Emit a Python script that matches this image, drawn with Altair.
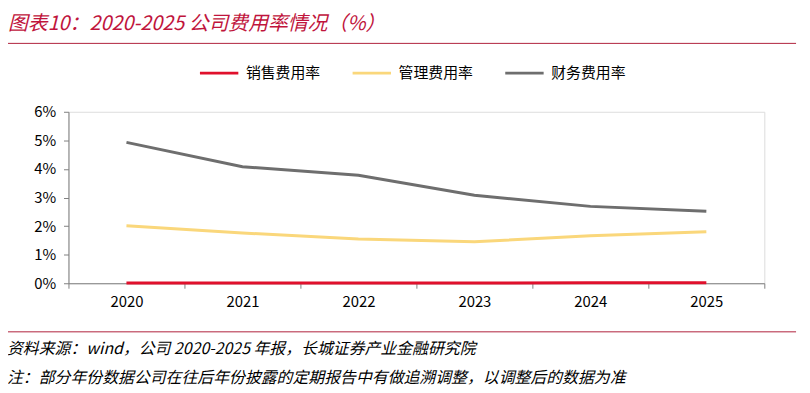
import altair as alt
import pandas as pd

years = ["2020", "2021", "2022", "2023", "2024", "2025"]
series_names = ["销售费用率", "管理费用率", "财务费用率"]
sales = [0.01, 0.01, 0.01, 0.01, 0.02, 0.02]
admin = [2.01, 1.76, 1.55, 1.45, 1.66, 1.80]
finance = [4.93, 4.08, 3.78, 3.08, 2.69, 2.52]
colors = ["#E0102C", "#FAD77B", "#6E6E6E"]

title_text = "图表10：2020-2025 公司费用率情况（%）"
source_text = "资料来源：wind，公司 2020-2025 年报，长城证券产业金融研究院"
note_text = "注：部分年份数据公司在往后年份披露的定期报告中有做追溯调整，以调整后的数据为准"

FONT = "Noto Sans CJK SC"

rows = []
for name, vals in zip(series_names, [sales, admin, finance]):
    for y, v in zip(years, vals):
        rows.append({"year": y, "series": name, "value": v / 100})
df = pd.DataFrame(rows)

lines = alt.Chart(df).mark_line(strokeWidth=3).encode(
    x=alt.X("year:O", scale=alt.Scale(type="band", paddingInner=0, paddingOuter=0),
            axis=alt.Axis(title=None, labelAngle=0, tickBand="extent", labelFontSize=15,
                          labelFont=FONT, labelColor="#000", domainColor="#808080",
                          tickColor="#808080", tickSize=5, labelPadding=6)),
    y=alt.Y("value:Q", scale=alt.Scale(domain=[0, 0.06]),
            axis=alt.Axis(title=None, format=".0%", values=[0, 0.01, 0.02, 0.03, 0.04, 0.05, 0.06],
                          grid=False, labelFontSize=15, labelFont=FONT, labelColor="#000",
                          domainColor="#808080", tickColor="#808080", tickSize=5, labelPadding=8)),
    color=alt.Color("series:N", scale=alt.Scale(domain=series_names, range=colors),
                    sort=series_names,
                    legend=alt.Legend(title=None, orient="none", direction="horizontal",
                                      legendX=131, legendY=-60, symbolType="stroke",
                                      symbolSize=1500, symbolStrokeWidth=3, labelFontSize=15,
                                      labelFont=FONT, labelColor="#000", labelOffset=6,
                                      columnPadding=25)),
    order=alt.Order("series:N"),
)

title = alt.Chart(pd.DataFrame({"t": [title_text]})).mark_text(
    align="left", baseline="middle", fontSize=20, fontStyle="italic", font=FONT, color="#C0143C"
).encode(text="t:N", x=alt.value(-61), y=alt.value(-88))

source = alt.Chart(pd.DataFrame({"t": [source_text]})).mark_text(
    align="left", baseline="middle", fontSize=16, fontStyle="italic", font=FONT, color="#000"
).encode(text="t:N", x=alt.value(-62), y=alt.value(239))

note = alt.Chart(pd.DataFrame({"t": [note_text]})).mark_text(
    align="left", baseline="middle", fontSize=16, fontStyle="italic", font=FONT, color="#000"
).encode(text="t:N", x=alt.value(-62), y=alt.value(269))

rule_top = alt.Chart(pd.DataFrame({"a": [0]})).mark_rule(color="#B0203C", strokeWidth=1).encode(
    x=alt.value(-64), x2=alt.value(734), y=alt.value(-69))
rule_bot = alt.Chart(pd.DataFrame({"a": [0]})).mark_rule(color="#B0203C", strokeWidth=1).encode(
    x=alt.value(-64), x2=alt.value(734), y=alt.value(222))

chart = alt.layer(lines, title, source, note, rule_top, rule_bot).properties(
    width=702, height=173,
    padding={"left": 61, "top": 103, "right": 38, "bottom": 108},
    autosize=alt.AutoSizeParams(type="none"),
).configure_view(stroke=None).configure(background="white")

chart.save("out.html", embed_options={"renderer": "svg", "actions": False})
